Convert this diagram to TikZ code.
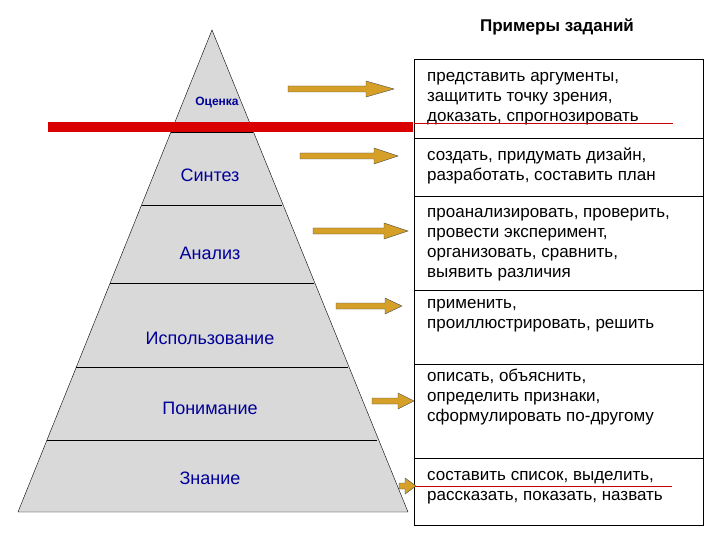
\documentclass[tikz,border=0pt]{standalone}
\usepackage{fontspec}
\setmainfont{Liberation Sans}
\definecolor{gold}{RGB}{214,160,40}
\begin{document}
\begin{tikzpicture}[x=1pt,y=-1pt,
  lvl/.style={text=blue!60!black, font=\fontsize{18}{20}\selectfont},
  tx/.style={anchor=west, align=left, inner sep=0pt, font=\fontsize{17}{20}\selectfont},
  arr/.style={draw=black!70, fill=gold, line width=0.4pt}]
\useasboundingbox (0,0) rectangle (720,540);
\fill[white] (0,0) rectangle (720,540);
\fill[gray!30, draw=black] (212,30) coordinate (apex) -- (18,512) coordinate (bl) -- (408,512) coordinate (br) -- cycle;
\foreach \y in {132,205,283,367,440}{
  \pgfmathsetmacro\hw{(\y-30)*0.4025}
  \draw (212-\hw,\y) -- (212+\hw,\y);}
\fill[red!85!black] (48,122) rectangle (413,132);
\node[lvl, font=\bfseries\fontsize{12}{14}\selectfont] (o) at (217,103) {Оценка};
\node[lvl] (s) at (210,175) {Синтез};
\node[lvl] (a) at (210,253) {Анализ};
\node[lvl] (i) at (210,338) {Использование};
\node[lvl] (p) at (210,408) {Понимание};
\node[lvl] (z) at (210,478) {Знание};
\node[font=\bfseries\fontsize{17}{20}\selectfont] (t) at (557,27) {Примеры заданий};
\draw[line width=1pt] (414,60) rectangle (703,525);
\foreach \y in {138,196,290,364,458} \draw (414,\y) -- (703,\y);
\node[tx] (t1) at (427,99) {представить аргументы,\\защитить точку зрения,\\доказать, спрогнозировать};
\node[tx] (t2) at (427,166) {создать, придумать дизайн,\\разработать, составить план};
\node[tx] (t3) at (427,245) {проанализировать, проверить,\\провести эксперимент,\\организовать, сравнить,\\выявить различия};
\node[tx] (t4) at (427,316) {применить,\\проиллюстрировать, решить};
\node[tx] (t5) at (427,397) {описать, объяснить,\\определить признаки,\\сформулировать по-другому};
\node[tx] (t6) at (427,488) {составить список, выделить,\\рассказать, показать, назвать};
\draw[red!80!black, line width=0.6pt] (414,123) -- (673,123);
\draw[red!80!black, line width=0.6pt] (414,486) -- (672,486);
\foreach \xa/\xb/\xh/\y in {288/366/394/89, 300/374/398/156, 313/384/408/231, 336/385/402/306, 372/398/414/401, 399/405/416/486}{
  \path[arr] (\xa,\y-3) -- (\xb,\y-3) -- (\xb,\y-8) -- (\xh,\y) -- (\xb,\y+8) -- (\xb,\y+3) -- (\xa,\y+3) -- cycle;}
\end{tikzpicture}
\end{document}
